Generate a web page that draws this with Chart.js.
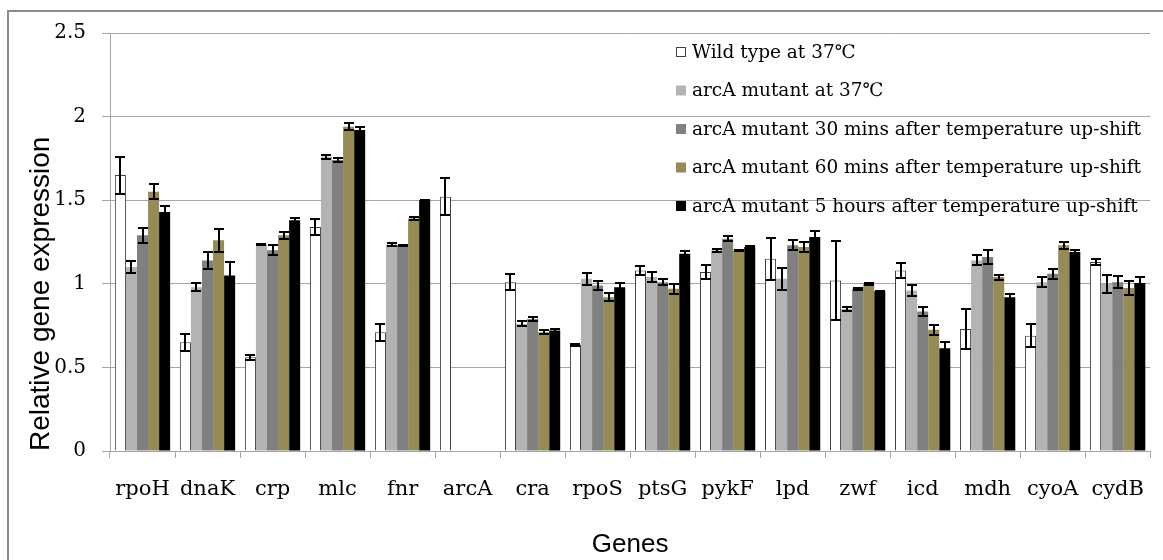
<!DOCTYPE html>
<html>
<head>
<meta charset="utf-8">
<script src="https://cdn.jsdelivr.net/npm/chart.js@4.4.1/dist/chart.umd.min.js"></script>
<style>
  html, body { margin: 0; padding: 0; background: #fff; }
  #wrap { width: 1163px; height: 560px; }
</style>
</head>
<body>
<div id="wrap"><canvas id="geneChart" width="1163" height="560"></canvas></div>
<script>
// Genes on the x axis
const genes = ['rpoH', 'dnaK', 'crp', 'mlc', 'fnr', 'arcA', 'cra', 'rpoS', 'ptsG', 'pykF', 'lpd', 'zwf', 'icd', 'mdh', 'cyoA', 'cydB'];

// Relative expression (mean) and error per series
const wildType37 = [1.65, 0.65, 0.56, 1.34, 0.71, 1.52, 1.01, 0.635, 1.08, 1.07, 1.15, 1.02, 1.08, 0.73, 0.69, 1.13];
const wildType37Err = [0.11, 0.05, 0.015, 0.05, 0.05, 0.11, 0.05, 0.005, 0.025, 0.04, 0.125, 0.235, 0.045, 0.12, 0.07, 0.02];

const arcA37 = [1.10, 0.98, 1.235, 1.76, 1.235, null, 0.76, 1.03, 1.04, 1.20, 1.03, 0.85, 0.96, 1.14, 1.01, 1.00];
const arcA37Err = [0.035, 0.025, 0.005, 0.012, 0.008, 0, 0.015, 0.035, 0.03, 0.008, 0.065, 0.01, 0.035, 0.03, 0.03, 0.055];

const arcA30 = [1.29, 1.14, 1.20, 1.74, 1.23, null, 0.79, 0.99, 1.01, 1.27, 1.23, 0.97, 0.835, 1.16, 1.06, 1.01];
const arcA30Err = [0.045, 0.05, 0.03, 0.012, 0.003, 0, 0.01, 0.025, 0.02, 0.015, 0.03, 0.005, 0.025, 0.04, 0.03, 0.035];

const arcA60 = [1.55, 1.26, 1.29, 1.94, 1.39, null, 0.71, 0.92, 0.97, 1.20, 1.22, 1.00, 0.725, 1.04, 1.23, 0.975];
const arcA60Err = [0.045, 0.07, 0.02, 0.02, 0.01, 0, 0.012, 0.025, 0.03, 0.005, 0.03, 0.005, 0.03, 0.015, 0.02, 0.04];

const arcA5h = [1.43, 1.05, 1.38, 1.92, 1.50, null, 0.72, 0.98, 1.18, 1.22, 1.28, 0.955, 0.615, 0.92, 1.19, 1.005];
const arcA5hErr = [0.036, 0.08, 0.012, 0.015, 0.003, 0, 0.012, 0.025, 0.015, 0.008, 0.035, 0.003, 0.035, 0.02, 0.015, 0.035];

const seriesLabels = [
  'Wild type at 37\u2103',
  'arcA mutant at 37\u2103',
  'arcA mutant 30 mins after temperature up-shift',
  'arcA mutant 60 mins after temperature up-shift',
  'arcA mutant 5 hours after temperature up-shift'
];

const serif = "'DejaVu Serif', 'Liberation Serif', serif";
const sans = "'Liberation Sans', Arial, sans-serif";
const gridGray = '#a6a6a6';

// Barras de error (media ± error) sobre cada barra
const errorBars = {
  id: 'errorBars',
  afterDatasetsDraw(chart) {
    const { ctx } = chart;
    const y = chart.scales.y;
    ctx.save();
    ctx.strokeStyle = '#000';
    ctx.lineWidth = 2;
    chart.data.datasets.forEach((ds, i) => {
      const meta = chart.getDatasetMeta(i);
      meta.data.forEach((bar, j) => {
        const v = ds.data[j];
        const e = ds.errors[j];
        if (v == null || !e) return;
        const yt = Math.round(y.getPixelForValue(v + e));
        const yb = Math.round(y.getPixelForValue(v - e));
        const x = Math.round(bar.x);
        ctx.beginPath();
        ctx.moveTo(x, yt); ctx.lineTo(x, yb);
        ctx.moveTo(x - 5, yt); ctx.lineTo(x + 5, yt);
        ctx.moveTo(x - 5, yb); ctx.lineTo(x + 5, yb);
        ctx.stroke();
      });
    });
    ctx.restore();
  }
};

// Leyenda dentro del área del gráfico, arriba a la derecha
const innerLegend = {
  id: 'innerLegend',
  afterDraw(chart) {
    const { ctx } = chart;
    const x0 = 676, y0 = 52, step = 38.5, box = 10;
    ctx.save();
    ctx.font = '18.5px ' + serif;
    ctx.textBaseline = 'middle';
    chart.data.datasets.forEach((ds, i) => {
      const cy = y0 + i * step;
      ctx.fillStyle = ds.backgroundColor;
      ctx.fillRect(x0, cy - box / 2, box, box);
      if (ds.borderWidth) {
        ctx.strokeStyle = '#404040';
        ctx.lineWidth = 1;
        ctx.strokeRect(x0 + 0.5, cy - box / 2 + 0.5, box - 1, box - 1);
      }
      ctx.fillStyle = '#000';
      ctx.fillText(ds.label, x0 + box + 6, cy + 1);
    });
    ctx.restore();
  }
};

// Marco exterior gris
const outerFrame = {
  id: 'outerFrame',
  beforeDraw(chart) {
    const { ctx } = chart;
    ctx.save();
    ctx.fillStyle = '#fff';
    ctx.fillRect(0, 0, chart.width, chart.height);
    ctx.strokeStyle = '#8a8a8a';
    ctx.lineWidth = 2;
    ctx.strokeRect(8, 11, 1300, 700);
    ctx.restore();
  }
};

const ctx = document.getElementById('geneChart').getContext('2d');

new Chart(ctx, {
  type: 'bar',
  data: {
    labels: genes,
    datasets: [
      { label: seriesLabels[0], data: wildType37, errors: wildType37Err, backgroundColor: '#ffffff', borderColor: '#404040', borderWidth: 1 },
      { label: seriesLabels[1], data: arcA37, errors: arcA37Err, backgroundColor: '#b3b3b3', borderWidth: 0 },
      { label: seriesLabels[2], data: arcA30, errors: arcA30Err, backgroundColor: '#808080', borderWidth: 0 },
      { label: seriesLabels[3], data: arcA60, errors: arcA60Err, backgroundColor: '#968b57', borderWidth: 0 },
      { label: seriesLabels[4], data: arcA5h, errors: arcA5hErr, backgroundColor: '#000000', borderWidth: 0 }
    ]
  },
  options: {
    responsive: false,
    animation: false,
    devicePixelRatio: 1,
    layout: { padding: { left: 8, right: 2, top: 33, bottom: 0 } },
    datasets: {
      bar: { categoryPercentage: 0.85, barPercentage: 1.0 }
    },
    plugins: {
      legend: { display: false },
      tooltip: { enabled: false }
    },
    scales: {
      x: {
        afterFit(scale) { scale.height = 109; },
        grid: { offset: true, drawOnChartArea: false, drawTicks: true, tickLength: 7, color: gridGray },
        border: { display: true, color: gridGray },
        ticks: { color: '#000', font: { family: serif, size: 21 }, padding: 19, maxRotation: 0, autoSkip: false },
        title: { display: true, text: 'Genes', color: '#000', font: { family: sans, size: 26 }, padding: { top: 0, bottom: 0 } }
      },
      y: {
        min: 0,
        max: 2.5,
        afterFit(scale) { scale.width = 102; },
        grid: { color: gridGray, tickLength: 8 },
        border: { display: true, color: gridGray },
        ticks: {
          stepSize: 0.5,
          color: '#000',
          font: { family: serif, size: 20 },
          padding: 16,
          callback: (v) => String(Number(v.toFixed(1)))
        },
        title: { display: true, text: 'Relative gene expression', align: 'start', color: '#000', font: { family: sans, size: 28 }, padding: { top: 16, bottom: 0 } }
      }
    }
  },
  plugins: [outerFrame, errorBars, innerLegend]
});
</script>
</body>
</html>
